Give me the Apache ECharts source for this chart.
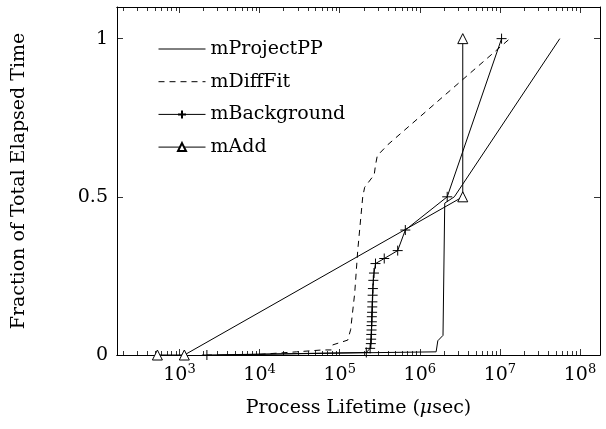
<!DOCTYPE html>
<html>
<head>
<meta charset="utf-8">
<script src="https://cdn.jsdelivr.net/npm/echarts@6/dist/echarts.min.js"></script>
<style>
  html, body { margin: 0; padding: 0; background: #fff; }
  #chart { width: 606px; height: 429px; }
</style>
</head>
<body>
<div id="chart"></div>
<script>
// data (x in usec, y as fraction)
const seriesNames = ['mProjectPP', 'mDiffFit', 'mBackground', 'mAdd']

const projectX = [3e3, 1e5, 1.6e6, 1.68e6, 1.95e6, 2.05e6, 2.7e6, 5.6e7]
const projectY = [0, 0.006, 0.01, 0.045, 0.062, 0.48, 0.5, 1.0]

const diffX = [1e4, 2.9e4, 6.1e4, 7.9e4, 8.2e4, 1.06e5, 1.26e5, 1.37e5, 1.54e5, 1.68e5, 1.94e5, 2.05e5, 2.7e5, 2.8e5, 2.95e5, 4.0e5, 1.33e7]
const diffY = [0.002, 0.01, 0.016, 0.016, 0.032, 0.041, 0.047, 0.08, 0.195, 0.33, 0.5, 0.53, 0.57, 0.6, 0.63, 0.665, 1.0]

const bgX = [2.2e3, 2.15e5, 2.4e5, 2.45e5, 2.47e5, 2.48e5, 2.5e5, 2.5e5, 2.52e5, 2.52e5, 2.54e5, 2.55e5, 2.56e5, 2.58e5, 2.6e5, 2.63e5, 2.68e5, 2.8e5, 3.6e5, 5.3e5, 6.6e5, 2.2e6, 1.05e7]
const bgY = [0, 0.008, 0.021, 0.036, 0.05, 0.065, 0.079, 0.093, 0.105, 0.121, 0.135, 0.152, 0.168, 0.189, 0.21, 0.236, 0.259, 0.289, 0.305, 0.33, 0.395, 0.5, 1.0]

const addX = [5.3e2, 1.15e3, 3.44e6, 3.44e6]
const addY = [0, 0, 0.5, 1.0]

const xMajor = [1e3, 1e4, 1e5, 1e6, 1e7, 1e8]
const yTicks = [0, 0.5, 1]

const xMin = Math.pow(10, 2.22)
const xMax = Math.pow(10, 8.25)

// log minor ticks 2..9 per decade
let xMinor = []
for (let d = 2; d <= 8; d++) {
    for (let k = 2; k <= 9; k++) {
        let v = k * Math.pow(10, d)
        if (v > xMin && v < xMax) xMinor.push(v)
    }
}

const zip = (xs, ys) => xs.map((x, i) => [x, ys[i]])

const font = 'DejaVu Serif'
const plus = 'path://M0,5L10,5M5,0L5,10'

function xAxisOf(pos, values, len, labels) {
    return {
        type: 'log',
        logBase: 10,
        position: pos,
        min: xMin,
        max: xMax,
        axisLine: { show: true, onZero: false, lineStyle: { color: '#000', width: 1 } },
        axisTick: { show: true, inside: true, length: len, customValues: values, lineStyle: { color: '#000', width: 0.8 } },
        axisLabel: labels ? {
            show: true,
            customValues: xMajor,
            margin: 8,
            formatter: v => '{b|10}{s|' + Math.round(Math.log10(v)) + '}',
            rich: {
                b: { fontFamily: font, fontSize: 19, color: '#000' },
                s: { fontFamily: font, fontSize: 13, color: '#000', padding: [0, 0, 12, 0] }
            }
        } : { show: false },
        splitLine: { show: false }
    }
}

function yAxisOf(pos, labels) {
    return {
        type: 'value',
        position: pos,
        min: 0,
        max: 1.1,
        interval: 0.5,
        axisLine: { show: true, onZero: false, lineStyle: { color: '#000', width: 1 } },
        axisTick: { show: true, inside: true, length: 6, customValues: yTicks, lineStyle: { color: '#000', width: 0.8 } },
        axisLabel: labels ? {
            show: true,
            customValues: yTicks,
            margin: 9,
            fontFamily: font,
            fontSize: 19,
            color: '#000'
        } : { show: false },
        splitLine: { show: false }
    }
}

let xAxes = [
    xAxisOf('bottom', xMajor, 6, true),
    xAxisOf('bottom', xMinor, 4, false),
    xAxisOf('top', xMajor, 6, false),
    xAxisOf('top', xMinor, 4, false)
]
xAxes[0].name = 'Process Lifetime ({i|μ}sec)'
xAxes[0].nameLocation = 'middle'
xAxes[0].nameGap = 44
xAxes[0].nameTextStyle = {
    fontFamily: font, fontSize: 19, color: '#000',
    rich: { i: { fontFamily: font, fontSize: 19, fontStyle: 'italic', color: '#000' } }
}

let yAxes = [yAxisOf('left', true), yAxisOf('right', false)]
yAxes[0].name = 'Fraction of Total Elapsed Time'
yAxes[0].nameLocation = 'middle'
yAxes[0].nameGap = 88
yAxes[0].nameTextStyle = { fontFamily: font, fontSize: 19, color: '#000' }

const lineBase = { color: '#000', width: 1 }
const noMark = { opacity: 0, color: 'transparent', borderWidth: 0 }

let option = {
    animation: false,
    backgroundColor: '#fff',
    grid: { left: 117, right: 6, top: 7, bottom: 74 },
    legend: {
        orient: 'vertical',
        left: 158,
        top: 39,
        padding: 0,
        itemWidth: 47,
        itemHeight: 10,
        itemGap: 12.7,
        lineStyle: { width: 1 },
        data: [
            { name: seriesNames[0], itemStyle: noMark },
            { name: seriesNames[1], itemStyle: noMark },
            { name: seriesNames[2] },
            { name: seriesNames[3] }
        ],
        textStyle: { fontFamily: font, fontSize: 19, color: '#000', lineHeight: 20 }
    },
    xAxis: xAxes,
    yAxis: yAxes,
    series: [
        {
            name: seriesNames[0],
            type: 'line',
            data: zip(projectX, projectY),
            symbol: 'none',
            lineStyle: lineBase,
            itemStyle: { color: '#000' },
            clip: false
        },
        {
            name: seriesNames[1],
            type: 'line',
            data: zip(diffX, diffY),
            symbol: 'none',
            lineStyle: { color: '#000', width: 1, type: [6, 5] },
            itemStyle: { color: '#000' },
            clip: false
        },
        {
            name: seriesNames[2],
            type: 'line',
            data: zip(bgX, bgY),
            symbol: plus,
            symbolSize: 10,
            showAllSymbol: true,
            lineStyle: lineBase,
            itemStyle: { color: 'none', borderColor: '#000', borderWidth: 1 },
            clip: false
        },
        {
            name: seriesNames[3],
            type: 'line',
            data: zip(addX, addY),
            symbol: 'triangle',
            symbolSize: 10,
            showAllSymbol: true,
            lineStyle: lineBase,
            itemStyle: { color: '#fff', borderColor: '#000', borderWidth: 1 },
            clip: false
        }
    ]
}

let chart = echarts.init(document.getElementById('chart'))
chart.setOption(option)
</script>
</body>
</html>
